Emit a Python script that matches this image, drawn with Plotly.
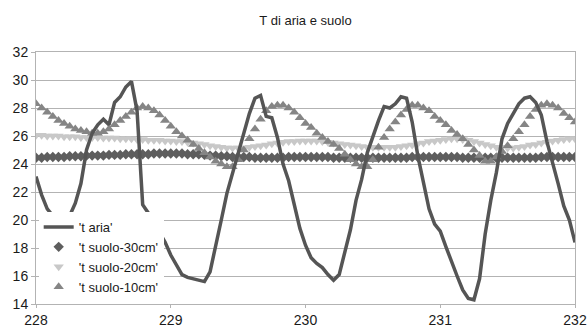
import plotly.graph_objects as go

start_day = 228
hours_per_day = 24

t_aria = [23.1, 21.8, 20.8, 20.3, 20.1, 20.1, 20.3, 21.2, 22.6, 25.0, 26.2, 26.8,
          27.2, 26.8, 28.4, 28.8, 29.5, 29.9, 27.8, 21.1, 20.5, 19.8, 19.1, 18.4,
          17.5, 16.8, 16.1, 15.9, 15.8, 15.7, 15.6, 16.3, 18.3, 20.0, 21.9, 23.3,
          24.9, 26.2, 27.6, 28.7, 28.9, 27.4, 27.3, 25.9, 24.0, 22.8, 21.0, 19.4,
          18.2, 17.3, 16.9, 16.6, 16.1, 15.7, 16.1, 17.6, 19.3, 21.4, 22.9, 24.8,
          26.0, 27.1, 28.1, 28.0, 28.3, 28.8, 28.7, 27.0, 24.6, 22.6, 20.8, 19.7,
          19.2, 18.1, 17.0, 16.0, 15.0, 14.4, 14.3, 15.8, 19.0, 21.4, 23.4, 25.8,
          26.9, 27.6, 28.3, 28.7, 28.8, 28.4, 27.5, 25.6, 24.2, 22.6, 21.0, 20.0, 18.4]

t_suolo_30 = [24.45, 24.45, 24.5, 24.5, 24.5, 24.5, 24.55, 24.55, 24.55, 24.6, 24.6, 24.6,
              24.6, 24.65, 24.65, 24.65, 24.7, 24.7, 24.7, 24.7, 24.7, 24.75, 24.75, 24.75,
              24.75, 24.75, 24.75, 24.7, 24.7, 24.7, 24.65, 24.6, 24.6, 24.55, 24.55, 24.5,
              24.5, 24.5, 24.5, 24.45, 24.45, 24.45, 24.45, 24.45, 24.45, 24.5, 24.5, 24.5,
              24.5, 24.5, 24.5, 24.5, 24.5, 24.45, 24.45, 24.45, 24.45, 24.45, 24.45, 24.45,
              24.45, 24.45, 24.45, 24.45, 24.45, 24.45, 24.45, 24.5, 24.5, 24.5, 24.5, 24.5,
              24.5, 24.5, 24.5, 24.5, 24.45, 24.45, 24.45, 24.45, 24.45, 24.45, 24.45, 24.45,
              24.45, 24.45, 24.45, 24.45, 24.45, 24.45, 24.5, 24.5, 24.5, 24.5, 24.5, 24.5, 24.5]

t_suolo_20 = [26.05, 26.05, 26.0, 26.0, 26.0, 25.95, 25.95, 25.95, 25.9, 25.9, 25.9, 25.9,
              25.85, 25.85, 25.85, 25.8, 25.8, 25.8, 25.75, 25.75, 25.7, 25.7, 25.7, 25.65,
              25.65, 25.6, 25.6, 25.55, 25.5, 25.45, 25.4, 25.3, 25.25, 25.2, 25.15, 25.15,
              25.15, 25.15, 25.2, 25.25, 25.3, 25.35, 25.45, 25.5, 25.55, 25.6, 25.6, 25.65,
              25.65, 25.65, 25.65, 25.6, 25.55, 25.5, 25.45, 25.4, 25.35, 25.3, 25.25, 25.2,
              25.2, 25.2, 25.2, 25.2, 25.2, 25.25, 25.3, 25.35, 25.45, 25.5, 25.6, 25.65,
              25.7, 25.75, 25.8, 25.8, 25.75, 25.7, 25.6, 25.5, 25.4, 25.3, 25.2, 25.2,
              25.15, 25.15, 25.2, 25.25, 25.35, 25.4, 25.5, 25.55, 25.65, 25.7, 25.75, 25.8, 25.8]

t_suolo_10 = [28.3, 28.0, 27.7, 27.4, 27.1, 26.9, 26.7, 26.5, 26.4, 26.3, 26.2, 26.2,
              26.3, 26.5, 26.8, 27.1, 27.4, 27.7, 28.0, 28.1, 28.0, 27.8, 27.5, 27.1,
              26.7, 26.3, 26.0, 25.7, 25.4, 25.1, 24.8, 24.5, 24.2, 24.0, 23.8, 23.8,
              24.3, 25.0, 25.8, 26.5, 27.2, 27.8, 28.1, 28.2, 28.2, 28.0, 27.7, 27.3,
              26.9, 26.6, 26.2, 25.9, 25.6, 25.4, 25.1, 24.7, 24.3, 24.0, 23.8, 23.8,
              24.3, 25.2, 25.9, 26.5, 27.0, 27.5, 27.9, 28.2, 28.2, 28.0, 27.8, 27.4,
              27.1, 26.8, 26.4, 26.1, 25.8, 25.4, 25.0, 24.6, 24.2, 24.2, 24.5, 24.9,
              25.3, 25.8, 26.3, 26.8, 27.4, 27.9, 28.2, 28.3, 28.2, 28.0, 27.6, 27.3, 27.0]

x_ticks = [228, 229, 230, 231, 232]
y_ticks = [14, 16, 18, 20, 22, 24, 26, 28, 30, 32]

days = [start_day + i / hours_per_day for i in range(len(t_aria))]

FONT = "Liberation Sans, Arial, sans-serif"
TXT = "#1a1a1a"
fig = go.Figure()

fig.add_trace(go.Scatter(x=days, y=t_suolo_20, mode="markers", name="'t suolo-20cm'",
                         legendrank=3,
                         marker=dict(symbol="triangle-down", size=9, color="#c8c8c8")))
fig.add_trace(go.Scatter(x=days, y=t_suolo_30, mode="markers", name="'t suolo-30cm'",
                         legendrank=2,
                         marker=dict(symbol="diamond", size=8, color="#5e5e5e")))
fig.add_trace(go.Scatter(x=days, y=t_suolo_10, mode="markers", name="'t suolo-10cm'",
                         legendrank=4,
                         marker=dict(symbol="triangle-up", size=9, color="#858585")))
fig.add_trace(go.Scatter(x=days, y=t_aria, mode="lines", name="'t aria'",
                         legendrank=1,
                         line=dict(color="#555555", width=3.5)))

fig.update_layout(
    width=588, height=327,
    margin=dict(l=36, r=13, t=52, b=23),
    paper_bgcolor="white", plot_bgcolor="white",
    font=dict(family=FONT, size=14, color=TXT),
    title=dict(text="T di aria e suolo", x=(36 + 575) / 2 / 588, xanchor="center",
               y=1 - 20 / 327, yanchor="middle", font=dict(size=13, family=FONT, color=TXT)),
    legend=dict(x=0.005, y=0.008, xanchor="left", yanchor="bottom",
                bgcolor="white", font=dict(size=13, family=FONT, color=TXT),
                tracegroupgap=0, itemwidth=30),
    showlegend=True,
)
fig.update_xaxes(range=[228, 232], tickvals=x_ticks, ticktext=[str(v) for v in x_ticks],
                 automargin=False, ticklabeloverflow="allow",
                 showgrid=False, zeroline=False, showline=True, linecolor="#b3b3b3",
                 linewidth=1, mirror=True, ticks="outside", ticklen=3, tickcolor="#b3b3b3",
                 tickfont=dict(size=14, family=FONT, color=TXT))
fig.update_yaxes(range=[14, 32], tickvals=y_ticks, ticktext=[str(v) for v in y_ticks],
                 automargin=False,
                 showgrid=True, gridcolor="#b3b3b3", gridwidth=1, zeroline=False,
                 showline=True, linecolor="#b3b3b3", linewidth=1, mirror=True,
                 ticks="outside", ticklen=4, tickcolor="#b3b3b3",
                 tickfont=dict(size=14, family=FONT, color=TXT))

fig.write_html("out.html", config={"displayModeBar": False},
               post_script="document.body.style.margin='0';")
